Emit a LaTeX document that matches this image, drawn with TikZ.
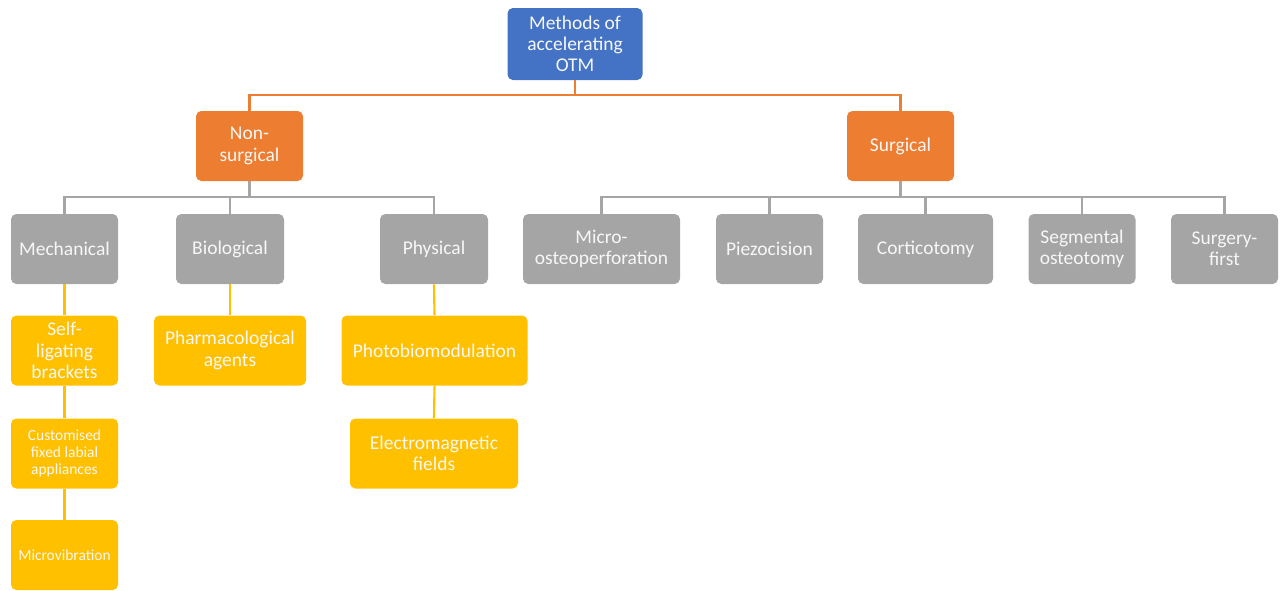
\documentclass[tikz,border=0pt]{standalone}
\usepackage{fontspec}
\setmainfont{Carlito}
\definecolor{cblue}{HTML}{4472C4}
\definecolor{corange}{HTML}{ED7D31}
\definecolor{cgray}{HTML}{A5A5A5}
\definecolor{cyellow}{HTML}{FFC000}
\definecolor{ctext}{HTML}{F7F7F7}
\tikzset{
  box/.style={rectangle, rounded corners=4pt, draw=none, text=ctext, align=center,
    font=\fontsize{14.6}{15.9}\selectfont, inner sep=0pt},
  small/.style={font=\fontsize{11.6}{12.6}\selectfont},
  bw/.style={minimum width=#1*0.75pt},
  bh/.style={minimum height=#1*0.75pt},
  bluebox/.style={box, fill=cblue},
  orangebox/.style={box, fill=corange},
  graybox/.style={box, fill=cgray},
  yellowbox/.style={box, fill=cyellow},
  oline/.style={draw=corange, line width=1.6pt},
  gline/.style={draw=cgray, line width=1.6pt},
  yline/.style={draw=cyellow, line width=1.6pt},
}
\begin{document}
\begin{tikzpicture}[x=0.75pt,y=-0.75pt]
\useasboundingbox (0,0) rectangle (1285,590);
% level 0
\node[bluebox, bw=135, bh=72] (top) at (575,44) {Methods of\\accelerating\\OTM};
% level 1
\node[orangebox, bw=107, bh=70] (nons) at (249.5,146) {Non-\\surgical};
\node[orangebox, bw=107, bh=70] (surg) at (900.5,146) {Surgical};
% level 2
\node[graybox, bw=107, bh=70] (mech) at (64.5,249) {Mechanical};
\node[graybox, bw=108, bh=70] (bio) at (230,249) {Biological};
\node[graybox, bw=108, bh=70] (phys) at (434,249) {Physical};
\node[graybox, bw=157, bh=70] (micro) at (601.5,249) {Micro-\\osteoperforation};
\node[graybox, bw=107, bh=70] (piezo) at (769.5,249) {Piezocision};
\node[graybox, bw=135, bh=70] (cort) at (925.5,249) {Corticotomy};
\node[graybox, bw=107, bh=70] (segm) at (1082,249) {Segmental\\osteotomy};
\node[graybox, bw=107, bh=70] (sfirst) at (1224.5,249) {Surgery-\\first};
% level 3
\node[yellowbox, bw=107, bh=70] (self) at (64.5,350.5) {Self-\\ligating\\brackets};
\node[yellowbox, bw=152, bh=70] (pharm) at (230,350.5) {Pharmacological\\agents};
\node[yellowbox, bw=186, bh=70] (photo) at (434.5,350.5) {Photobiomodulation};
% level 4
\node[yellowbox, small, bw=107, bh=70] (cust) at (64.5,453.5) {Customised\\fixed labial\\appliances};
\node[yellowbox, bw=168, bh=70] (emf) at (434,453.5) {Electromagnetic\\fields};
% level 5
\node[yellowbox, small, bw=107, bh=70] (mvib) at (64.5,555) {Microvibration};

% orange connectors
\coordinate (o1) at (575,95);
\draw[oline] (top.south) -- (o1);
\draw[oline] (o1) -| (nons.north);
\draw[oline] (o1) -| (surg.north);
% gray connectors non-surgical
\coordinate (g1) at (249.5,197);
\draw[gline] (nons.south) -- (g1);
\draw[gline] (g1) -| (mech.north);
\draw[gline] (g1) -| (phys.north);
\draw[gline] (bio.north) -- (bio.north |- g1);
% gray connectors surgical
\coordinate (g2) at (900.5,197);
\draw[gline] (surg.south) -- (g2);
\draw[gline] (g2) -| (micro.north);
\draw[gline] (g2) -| (sfirst.north);
\draw[gline] (piezo.north) -- (piezo.north |- g2);
\draw[gline] (cort.north) -- (cort.north |- g2);
\draw[gline] (segm.north) -- (segm.north |- g2);
% yellow connectors
\draw[yline] (mech.south) -- (self.north);
\draw[yline] (self.south) -- (cust.north);
\draw[yline] (cust.south) -- (mvib.north);
\draw[yline] (bio.south) -- (pharm.north);
\draw[yline] (phys.south) -- (photo.north);
\draw[yline] (photo.south) -- (emf.north);
\end{tikzpicture}
\end{document}
